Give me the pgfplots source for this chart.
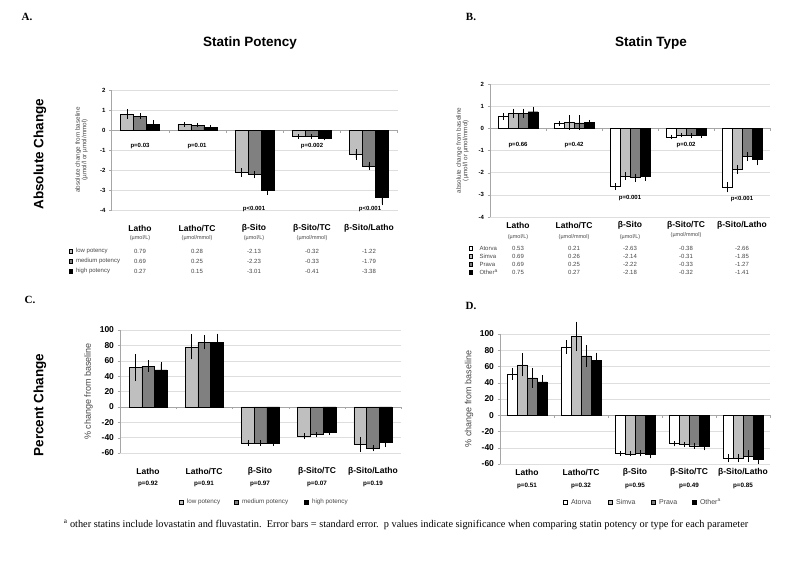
\documentclass[border=0pt]{standalone}
\usepackage{fontspec}
\setmainfont{Liberation Sans}
\newfontfamily\serif{Liberation Serif}
\usepackage{pgfplots}
\pgfplotsset{compat=1.18}

\definecolor{lowc}{RGB}{191,191,191}
\definecolor{medc}{RGB}{128,128,128}
\definecolor{txtc}{RGB}{70,70,70}
\definecolor{gridc}{RGB}{222,222,222}

\newcommand{\fs}[1]{\fontsize{#1}{#1}\selectfont}

\pgfplotsset{
  panel/.style={
    scale only axis, anchor=north west,
    xmin=-0.5, xmax=4.5,
    ybar=0pt,
    axis x line=middle, axis y line=left,
    axis line style={-, draw=gray!70},
    hide obscured x ticks=false, hide obscured y ticks=false,
    xtick={-0.5,0.5,1.5,2.5,3.5,4.5}, xticklabels={},
    tick align=outside, major tick length=2.5pt,
    tick style={draw=gray!70},
    ymajorgrids, grid style={gridc, line width=0.4pt},
    /pgf/number format/assume math mode=true,
    clip=false,
  },
  eb/.style={error bars/.cd, y dir=both, y explicit,
    error bar style={line width=0.5pt, black},
    error mark options={line width=0.5pt, black, mark size=1.8pt}},
  bars/.style={draw=black, line width=0.4pt, fill=#1},
}

\begin{document}
\begin{tikzpicture}
\path[use as bounding box] (0pt,0pt) rectangle (800pt,-566pt);

% ---------------- Panel A ----------------
\begin{axis}[panel, at={(111.5pt,-90pt)}, width=286pt, height=120pt,
  ymin=-4, ymax=2, ytick={-4,-3,...,2}, bar width=13pt,
  tick label style={font=\bfseries\fs{6}},
  ylabel={absolute change from baseline\\(µmol/l or µmol/mmol)},
  ylabel style={align=center, font=\fs{6.3}, text=txtc, at={(axis description cs:0,0.5)}, anchor=center, yshift=30pt}]
\addplot[bars=lowc, eb] coordinates {(0,0.79) +- (0,0.15) (1,0.28) +- (0,0.02) (2,-2.13) +- (0,0.12) (3,-0.32) +- (0,0.02) (4,-1.22) +- (0,0.17)};
\addplot[bars=medc, eb] coordinates {(0,0.69) +- (0,0.07) (1,0.25) +- (0,0.02) (2,-2.23) +- (0,0.08) (3,-0.33) +- (0,0.02) (4,-1.79) +- (0,0.10)};
\addplot[bars=black, eb] coordinates {(0,0.27) +- (0,0.12) (1,0.15) +- (0,0.02) (2,-3.01) +- (0,0.14) (3,-0.41) +- (0,0.02) (4,-3.38) +- (0,0.30)};
\end{axis}

% ---------------- Panel B ----------------
\begin{axis}[panel, at={(490pt,-84pt)}, width=280pt, height=133pt,
  ymin=-4, ymax=2, ytick={-4,-3,...,2}, bar width=10pt,
  tick label style={font=\bfseries\fs{6}},
  ylabel={absolute change from baseline\\(µmol/l or µmol/mmol)},
  ylabel style={align=center, font=\fs{6.3}, text=txtc, at={(axis description cs:0,0.5)}, anchor=center, yshift=27.5pt}]
\addplot[bars=white, eb] coordinates {(0,0.53) +- (0,0.07) (1,0.21) +- (0,0.02) (2,-2.63) +- (0,0.08) (3,-0.38) +- (0,0.02) (4,-2.66) +- (0,0.15)};
\addplot[bars=lowc, eb] coordinates {(0,0.69) +- (0,0.12) (1,0.26) +- (0,0.25) (2,-2.14) +- (0,0.10) (3,-0.31) +- (0,0.02) (4,-1.85) +- (0,0.12)};
\addplot[bars=medc, eb] coordinates {(0,0.69) +- (0,0.12) (1,0.25) +- (0,0.25) (2,-2.22) +- (0,0.10) (3,-0.33) +- (0,0.03) (4,-1.27) +- (0,0.13)};
\addplot[bars=black, eb] coordinates {(0,0.75) +- (0,0.15) (1,0.27) +- (0,0.03) (2,-2.18) +- (0,0.12) (3,-0.32) +- (0,0.02) (4,-1.41) +- (0,0.18)};
\end{axis}

% ---------------- Panel C ----------------
\begin{axis}[panel, at={(120pt,-330pt)}, width=281pt, height=123pt,
  ymin=-60, ymax=100, ytick={-60,-40,...,100}, bar width=12.7pt,
  tick label style={font=\bfseries\fs{8.5}},
  ylabel={\% change from baseline},
  ylabel style={font=\fs{9}, text=txtc, at={(axis description cs:0,0.5)}, anchor=center, yshift=31.5pt}]
\addplot[bars=lowc, eb] coordinates {(0,51) +- (0,15) (1,78) +- (0,14) (2,-47) +- (0,1.5) (3,-38) +- (0,1.5) (4,-49) +- (0,7)};
\addplot[bars=medc, eb] coordinates {(0,53) +- (0,5) (1,84) +- (0,7) (2,-47) +- (0,1) (3,-36) +- (0,1) (4,-54) +- (0,1.5)};
\addplot[bars=black, eb] coordinates {(0,48) +- (0,8) (1,84) +- (0,9) (2,-47) +- (0,1) (3,-33) +- (0,1) (4,-46) +- (0,4)};
\end{axis}

% ---------------- Panel D ----------------
\begin{axis}[panel, at={(500pt,-334pt)}, width=270pt, height=130pt,
  ymin=-60, ymax=100, ytick={-60,-40,...,100}, bar width=10pt,
  tick label style={font=\bfseries\fs{8.5}},
  ylabel={\% change from baseline},
  ylabel style={font=\fs{9}, text=txtc, at={(axis description cs:0,0.5)}, anchor=center, yshift=31pt}]
\addplot[bars=white, eb] coordinates {(0,51) +- (0,5) (1,84) +- (0,6) (2,-47) +- (0,1) (3,-35) +- (0,1) (4,-53) +- (0,2.5)};
\addplot[bars=lowc, eb] coordinates {(0,62) +- (0,12) (1,97) +- (0,16) (2,-47.5) +- (0,1) (3,-36) +- (0,1) (4,-53) +- (0,2.5)};
\addplot[bars=medc, eb] coordinates {(0,46) +- (0,10) (1,73) +- (0,11) (2,-47) +- (0,1.5) (3,-37.5) +- (0,1.5) (4,-50) +- (0,5)};
\addplot[bars=black, eb] coordinates {(0,41) +- (0,6) (1,68) +- (0,7) (2,-48.5) +- (0,2.5) (3,-38.5) +- (0,2.5) (4,-54) +- (0,4)};
\end{axis}

% ---------------- Text ----------------
\begin{scope}[x=1pt, y=-1pt]
% panel letters
\node[font=\serif\bfseries\fs{11}] at (27,17) {A.};
\node[font=\serif\bfseries\fs{11}] at (471,17) {B.};
\node[font=\serif\bfseries\fs{11}] at (30,300) {C.};
\node[font=\serif\bfseries\fs{11}] at (471,306) {D.};
% titles
\node[font=\bfseries\fs{13.5}] at (250,43) {Statin Potency};
\node[font=\bfseries\fs{13.5}] at (651,43) {Statin Type};
\node[font=\bfseries\fs{13.5}, rotate=90] at (40,154) {Absolute Change};
\node[font=\bfseries\fs{13.5}, rotate=90] at (40,405) {Percent Change};

% Panel A annotations
\begin{scope}[every node/.style={font=\bfseries\fs{6}}]
\node at (140,146) {p=0.03};
\node at (197,146) {p=0.01};
\node at (254,209) {p<0.001};
\node at (312,146) {p=0.002};
\node at (370,209) {p<0.001};
\end{scope}
\begin{scope}[every node/.style={font=\bfseries\fs{8.5}}]
\node at (140,228) {Latho};
\node at (197,228) {Latho/TC};
\node at (254,228) {β-Sito};
\node at (312,228) {β-Sito/TC};
\node at (369,228) {β-Sito/Latho};
\end{scope}
\begin{scope}[every node/.style={font=\fs{5.5}, text=txtc}]
\node at (140,238.5) {(µmol/L)};
\node at (197,238.5) {(µmol/mmol)};
\node at (254,238.5) {(µmol/L)};
\node at (312,238.5) {(µmol/mmol)};
\end{scope}
\begin{scope}[every node/.style={font=\fs{6}, text=txtc}]
\node[anchor=west] at (72.5,251) {low potency};
\node[anchor=west] at (72.5,261) {medium potency};
\node[anchor=west] at (72.5,271) {high potency};
\node at (140,251) {0.79}; \node at (197,251) {0.28}; \node at (254,251) {-2.13}; \node at (312,251) {-0.32}; \node at (369,251) {-1.22};
\node at (140,261) {0.69}; \node at (197,261) {0.25}; \node at (254,261) {-2.23}; \node at (312,261) {-0.33}; \node at (369,261) {-1.79};
\node at (140,271) {0.27}; \node at (197,271) {0.15}; \node at (254,271) {-3.01}; \node at (312,271) {-0.41}; \node at (369,271) {-3.38};
\end{scope}
\begin{scope}[every node/.style={draw=black, line width=0.3pt, minimum size=3.5pt, inner sep=0pt}]
\node[fill=lowc] at (70.5,251) {};
\node[fill=medc] at (70.5,261) {};
\node[fill=black] at (70.5,271) {};
\end{scope}

% Panel B annotations
\begin{scope}[every node/.style={font=\bfseries\fs{6}}]
\node at (518,145) {p=0.66};
\node at (574,145) {p=0.42};
\node at (630,198) {p=0.001};
\node at (686,145) {p=0.02};
\node at (742,199) {p<0.001};
\end{scope}
\begin{scope}[every node/.style={font=\bfseries\fs{8.5}}]
\node at (518,225) {Latho};
\node at (574,225) {Latho/TC};
\node at (630,225) {β-Sito};
\node at (686,225) {β-Sito/TC};
\node at (742,225) {β-Sito/Latho};
\end{scope}
\begin{scope}[every node/.style={font=\fs{5.5}, text=txtc}]
\node at (518,237) {(µmol/L)};
\node at (574,237) {(µmol/mmol)};
\node at (630,237) {(µmol/L)};
\node at (686,235.5) {(µmol/mmol)};
\end{scope}
\begin{scope}[every node/.style={font=\fs{6}, text=txtc}]
\node[anchor=west] at (476,248) {Atorva};
\node[anchor=west] at (476,256) {Simva};
\node[anchor=west] at (476,264) {Prava};
\node[anchor=west] at (476,272) {Other\textsuperscript{a}};
\node at (518,248) {0.53}; \node at (574,248) {0.21}; \node at (630,248) {-2.63}; \node at (686,248) {-0.38}; \node at (742,248) {-2.66};
\node at (518,256) {0.69}; \node at (574,256) {0.26}; \node at (630,256) {-2.14}; \node at (686,256) {-0.31}; \node at (742,256) {-1.85};
\node at (518,264) {0.69}; \node at (574,264) {0.25}; \node at (630,264) {-2.22}; \node at (686,264) {-0.33}; \node at (742,264) {-1.27};
\node at (518,272) {0.75}; \node at (574,272) {0.27}; \node at (630,272) {-2.18}; \node at (686,272) {-0.32}; \node at (742,272) {-1.41};
\end{scope}
\begin{scope}[every node/.style={draw=black, line width=0.3pt, minimum size=3.5pt, inner sep=0pt}]
\node[fill=white] at (470.5,248) {};
\node[fill=lowc] at (470.5,256) {};
\node[fill=medc] at (470.5,264) {};
\node[fill=black] at (470.5,272) {};
\end{scope}

% Panel C annotations
\begin{scope}[every node/.style={font=\bfseries\fs{8.5}}]
\node at (148,471) {Latho};
\node at (204,471) {Latho/TC};
\node at (260,471) {β-Sito};
\node at (317,471) {β-Sito/TC};
\node at (373,471) {β-Sito/Latho};
\end{scope}
\begin{scope}[every node/.style={font=\bfseries\fs{6.3}}]
\node at (148,484) {p=0.92};
\node at (204,484) {p=0.91};
\node at (260,484) {p=0.97};
\node at (317,484) {p=0.07};
\node at (373,484) {p=0.19};
\end{scope}
\begin{scope}[every node/.style={font=\fs{6.3}, text=txtc, anchor=west}]
\node at (183.5,502) {low potency};
\node at (238.5,502) {medium potency};
\node at (308.5,502) {high potency};
\end{scope}
\begin{scope}[every node/.style={draw=black, line width=0.3pt, minimum size=3.5pt, inner sep=0pt}]
\node[fill=lowc] at (181,502) {};
\node[fill=medc] at (236,502) {};
\node[fill=black] at (306,502) {};
\end{scope}

% Panel D annotations
\begin{scope}[every node/.style={font=\bfseries\fs{8.5}}]
\node at (527,472) {Latho};
\node at (581,472) {Latho/TC};
\node at (635,472) {β-Sito};
\node at (689,472) {β-Sito/TC};
\node at (743,472) {β-Sito/Latho};
\end{scope}
\begin{scope}[every node/.style={font=\bfseries\fs{6.3}}]
\node at (527,486) {p=0.51};
\node at (581,486) {p=0.32};
\node at (635,486) {p=0.95};
\node at (689,486) {p=0.49};
\node at (743,486) {p=0.85};
\end{scope}
\begin{scope}[every node/.style={font=\fs{7}, text=txtc, anchor=west}]
\node at (567.5,502) {Atorva};
\node at (612.5,502) {Simva};
\node at (655.5,502) {Prava};
\node at (696.5,502) {Other\textsuperscript{a}};
\end{scope}
\begin{scope}[every node/.style={draw=black, line width=0.3pt, minimum size=3.5pt, inner sep=0pt}]
\node[fill=white] at (565,502) {};
\node[fill=lowc] at (610,502) {};
\node[fill=medc] at (653,502) {};
\node[fill=black] at (694,502) {};
\end{scope}

% footnote
\node[font=\serif\fs{10.3}] at (406,525) {\textsuperscript{a} other statins include lovastatin and fluvastatin.\ \ Error bars = standard error.\ \ p values indicate significance when comparing statin potency or type for each parameter};
\end{scope}
\end{tikzpicture}
\end{document}
